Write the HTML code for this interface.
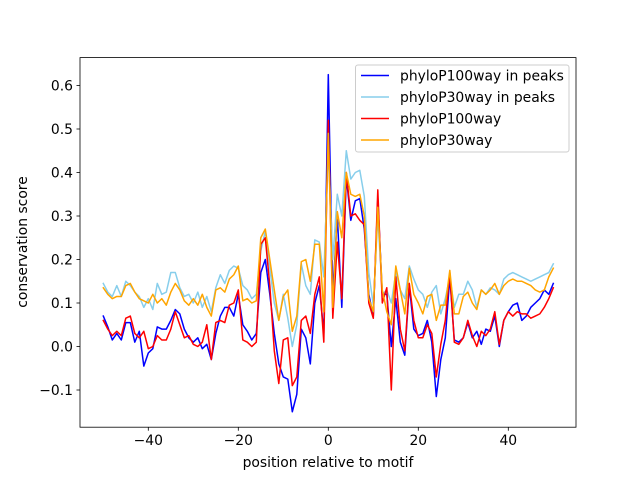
<!DOCTYPE html>
<html><head><meta charset="utf-8"><style>
html,body{margin:0;padding:0;background:#fff;}
svg{display:block;font-family:"DejaVu Sans","Liberation Sans",sans-serif;}
</style></head><body>
<svg id="chart" width="640" height="480" viewBox="0 0 640 480" xmlns="http://www.w3.org/2000/svg">
<rect x="0" y="0" width="640" height="480" fill="#fff"/>
<g id="plot"></g>
<g id="axes"></g>
</svg>
<script>
const positions = [];
for (let i = -50; i <= 50; i++) positions.push(i);
const blue100peaks = [0.07,0.045,0.015,0.03,0.015,0.055,0.055,0.01,0.035,-0.045,-0.015,-0.005,0.045,0.04,0.04,0.06,0.085,0.075,0.04,0.02,0.01,0.02,-0.005,0.005,-0.03,0.03,0.07,0.09,0.09,0.07,0.12,0.05,0.035,0.015,0.03,0.17,0.2,0.12,0.03,-0.04,-0.07,-0.075,-0.15,-0.11,0.04,0.02,-0.04,0.1,0.14,0.03,0.625,0.12,0.3,0.09,0.39,0.29,0.335,0.34,0.27,0.12,0.07,0.34,0.12,0.12,0.0,0.11,0.01,-0.02,0.14,0.04,0.025,0.03,0.06,0.01,-0.115,-0.03,0.02,0.16,0.015,0.01,0.02,0.055,0.02,0.035,0.005,0.04,0.035,0.07,0.0,0.06,0.08,0.095,0.1,0.06,0.07,0.09,0.1,0.11,0.13,0.12,0.145];
const sky30peaks = [0.145,0.125,0.115,0.14,0.115,0.15,0.14,0.125,0.115,0.09,0.11,0.085,0.145,0.12,0.125,0.17,0.17,0.135,0.115,0.12,0.1,0.125,0.09,0.115,0.08,0.135,0.165,0.145,0.175,0.185,0.18,0.14,0.13,0.11,0.12,0.22,0.265,0.18,0.1,0.06,0.12,0.065,0.0,0.05,0.19,0.14,0.12,0.245,0.24,0.16,0.455,0.2,0.35,0.3,0.45,0.385,0.4,0.405,0.345,0.17,0.095,0.3,0.12,0.13,0.1,0.17,0.13,0.11,0.185,0.155,0.13,0.12,0.09,0.125,0.14,0.075,0.11,0.16,0.09,0.12,0.12,0.15,0.13,0.09,0.13,0.12,0.135,0.13,0.12,0.155,0.165,0.17,0.165,0.16,0.155,0.15,0.155,0.16,0.165,0.17,0.19];
const red100 = [0.06,0.04,0.025,0.035,0.025,0.065,0.07,0.03,0.02,0.035,-0.005,0.0,0.025,0.015,0.015,0.04,0.08,0.05,0.02,0.025,0.005,0.0,0.01,0.05,-0.03,0.055,0.06,0.055,0.095,0.1,0.13,0.015,0.01,0.0,0.01,0.235,0.25,0.14,-0.01,-0.085,0.015,0.02,-0.09,-0.07,0.06,0.07,0.03,0.12,0.16,0.01,0.52,0.065,0.24,0.11,0.4,0.3,0.305,0.29,0.28,0.1,0.065,0.36,0.1,0.135,-0.1,0.16,0.04,-0.01,0.145,0.06,0.02,0.02,0.05,0.03,-0.07,0.005,0.06,0.17,0.01,0.005,0.02,0.06,0.025,0.0,0.035,0.025,0.04,0.08,0.005,0.06,0.08,0.07,0.08,0.075,0.075,0.065,0.07,0.075,0.09,0.11,0.135];
const orange30 = [0.135,0.12,0.11,0.115,0.115,0.14,0.145,0.125,0.11,0.105,0.1,0.12,0.1,0.11,0.095,0.125,0.145,0.13,0.105,0.095,0.11,0.095,0.12,0.09,0.07,0.13,0.135,0.125,0.155,0.165,0.185,0.105,0.11,0.1,0.105,0.25,0.27,0.2,0.13,0.06,0.115,0.13,0.035,0.07,0.195,0.2,0.15,0.235,0.235,0.08,0.49,0.09,0.31,0.25,0.4,0.35,0.345,0.35,0.3,0.11,0.08,0.32,0.13,0.08,0.05,0.185,0.13,0.075,0.18,0.12,0.1,0.075,0.115,0.12,0.06,0.095,0.095,0.175,0.075,0.075,0.115,0.125,0.1,0.085,0.13,0.12,0.13,0.145,0.12,0.14,0.15,0.155,0.15,0.15,0.145,0.14,0.13,0.125,0.13,0.16,0.18];
const xTicks = [-40,-20,0,20,40];
const xTickLabels = ["\u221240","\u221220","0","20","40"];
const yTicks = [-0.1,0,0.1,0.2,0.3,0.4,0.5,0.6];
const yTickLabels = ["\u22120.1","0.0","0.1","0.2","0.3","0.4","0.5","0.6"];
const seriesNames = ["phyloP100way in peaks","phyloP30way in peaks","phyloP100way","phyloP30way"];

const NS = "http://www.w3.org/2000/svg";
const L = 80, R = 576, T = 57.6, B = 427.2;
function xs(v){ return 328.3 + v * 4.5; }
function ys(v){ return 346.5 - v * 435; }
function mk(tag, attrs, parent){
  const e = document.createElementNS(NS, tag);
  for (const k in attrs) e.setAttribute(k, attrs[k]);
  parent.appendChild(e);
  return e;
}
const plot = document.getElementById('plot');
const axes = document.getElementById('axes');
const series = [
  {vals: blue100peaks, color: '#0000ff', name: 'series-phylop100way-in-peaks'},
  {vals: sky30peaks, color: '#87ceeb', name: 'series-phylop30way-in-peaks'},
  {vals: red100, color: '#ff0000', name: 'series-phylop100way'},
  {vals: orange30, color: '#ffa500', name: 'series-phylop30way'}
];
series.forEach(s => {
  const d = s.vals.map((v,i) => (i ? 'L' : 'M') + xs(positions[i]).toFixed(2) + ',' + ys(v).toFixed(2)).join(' ');
  const p = mk('path', {d: d, fill: 'none', stroke: s.color, 'stroke-width': 1.5, 'stroke-linejoin': 'round', 'stroke-linecap': 'square'}, plot);
  
  
});
const frame = mk('rect', {x: L, y: T, width: R - L, height: B - T, fill: 'none', stroke: '#000', 'stroke-width': 0.8}, axes);


xTicks.forEach((v,i) => {
  const x = xs(v);
  const t = mk('line', {x1: x, x2: x, y1: B, y2: B + 3.5, stroke: '#000', 'stroke-width': 0.8}, axes);
  
  
  const tx = mk('text', {x: x, y: B + 18, 'text-anchor': 'middle', 'font-size': 13.9, fill: '#000'}, axes);
  tx.textContent = xTickLabels[i];
  
  
});
yTicks.forEach((v,i) => {
  const y = ys(v);
  const t = mk('line', {x1: L - 3.5, x2: L, y1: y, y2: y, stroke: '#000', 'stroke-width': 0.8}, axes);
  
  
  const tx = mk('text', {x: L - 7, y: y + 5, 'text-anchor': 'end', 'font-size': 13.9, fill: '#000'}, axes);
  tx.textContent = yTickLabels[i];
  
  
});
const xl = mk('text', {x: 328, y: 467, 'text-anchor': 'middle', 'font-size': 13.9, fill: '#000'}, axes);
xl.textContent = 'position relative to motif';


const yl = mk('text', {x: 0, y: 0, 'text-anchor': 'middle', 'font-size': 13.9, fill: '#000', transform: 'translate(27,242) rotate(-90)'}, axes);
yl.textContent = 'conservation score';


// legend
const lg = mk('g', {}, axes);


mk('rect', {x: 355.5, y: 65, width: 213.5, height: 87, rx: 2.5, fill: '#fff', 'fill-opacity': 0.8, stroke: '#cccccc', 'stroke-width': 1}, lg);
const legY = [75.5, 97, 118.5, 140];
series.forEach((s,i) => {
  const ln = mk('line', {x1: 361, x2: 389, y1: legY[i], y2: legY[i], stroke: s.color, 'stroke-width': 1.5}, lg);
  
  
  const tx = mk('text', {x: 400, y: legY[i] + 5, 'font-size': 13.9, fill: '#000'}, lg);
  tx.textContent = seriesNames[i];
  
  
});
</script>
</body></html>
